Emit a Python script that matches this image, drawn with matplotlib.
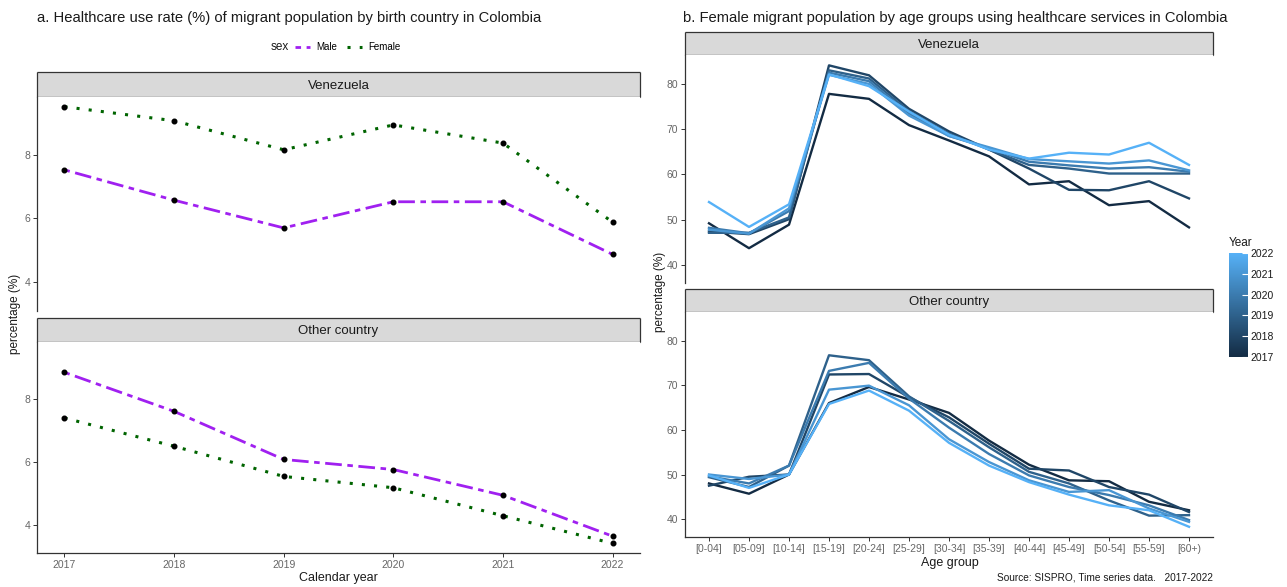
import numpy as np
import matplotlib
matplotlib.use("Agg")
import matplotlib.pyplot as plt
from matplotlib.colors import LinearSegmentedColormap, Normalize
from matplotlib.lines import Line2D
from matplotlib.colorbar import ColorbarBase

plt.rcParams['font.family'] = ['Liberation Sans', 'DejaVu Sans']

# -------------------------
# Data
# -------------------------
years = [2017, 2018, 2019, 2020, 2021, 2022]

ven_male = [7.52, 6.57, 5.70, 6.52, 6.52, 4.87]
ven_female = [9.50, 9.06, 8.15, 8.93, 8.36, 5.88]
oth_male = [8.84, 7.60, 6.07, 5.75, 4.93, 3.63]
oth_female = [7.39, 6.49, 5.53, 5.17, 4.28, 3.40]

age_groups = ["[0-04]", "[05-09]", "[10-14]", "[15-19]", "[20-24]", "[25-29]",
              "[30-34]", "[35-39]", "[40-44]", "[45-49]", "[50-54]", "[55-59]",
              "[60+)"]

ven_2017 = [49.2, 43.7, 48.9, 77.8, 76.7, 70.9, 67.5, 64.0, 57.8, 58.5, 53.2, 54.1, 48.3]
ven_2018 = [47.4, 46.8, 50.1, 84.1, 81.9, 74.5, 69.5, 65.5, 61.3, 56.6, 56.5, 58.5, 54.7]
ven_2019 = [47.1, 47.1, 50.5, 83.0, 81.2, 74.0, 69.0, 65.5, 62.1, 61.3, 60.2, 60.2, 60.2]
ven_2020 = [48.2, 47.0, 51.9, 82.5, 80.6, 73.5, 68.5, 65.8, 62.8, 62.0, 61.3, 61.6, 60.6]
ven_2021 = [47.8, 46.9, 52.5, 82.0, 80.0, 73.0, 68.5, 66.0, 63.4, 62.9, 62.4, 63.1, 60.9]
ven_2022 = [53.9, 48.4, 53.4, 82.1, 79.5, 73.9, 68.8, 65.5, 63.5, 64.8, 64.4, 67.0, 62.1]

oth_2017 = [48.0, 45.7, 50.0, 66.0, 69.6, 66.8, 63.8, 57.6, 52.2, 48.7, 48.5, 43.9, 42.0]
oth_2018 = [47.5, 49.5, 50.0, 72.4, 72.5, 67.3, 62.8, 56.9, 51.3, 50.9, 47.2, 45.5, 41.6]
oth_2019 = [49.4, 47.2, 52.0, 76.7, 75.6, 67.5, 62.0, 56.1, 50.6, 48.0, 44.2, 40.8, 40.9]
oth_2020 = [49.6, 48.0, 52.0, 73.2, 75.0, 67.0, 60.5, 54.6, 49.8, 47.2, 45.4, 43.1, 39.8]
oth_2021 = [50.0, 49.0, 50.0, 69.0, 69.9, 65.5, 57.9, 52.8, 48.7, 46.1, 46.5, 42.4, 39.4]
oth_2022 = [49.8, 47.0, 50.0, 65.8, 68.8, 64.3, 57.1, 52.0, 48.3, 45.5, 43.1, 42.0, 38.3]

ven_lines = [ven_2017, ven_2018, ven_2019, ven_2020, ven_2021, ven_2022]
oth_lines = [oth_2017, oth_2018, oth_2019, oth_2020, oth_2021, oth_2022]

# -------------------------
# Layout helpers (pixel based)
# -------------------------
W, H = 1287, 587
fig = plt.figure(figsize=(W / 100, H / 100), dpi=100)


def px_axes(x0, y0, x1, y1):
    return fig.add_axes([x0 / W, 1 - y1 / H, (x1 - x0) / W, (y1 - y0) / H])


def fx(x):
    return x / W


def fy(y):
    return 1 - y / H


def strip(x0, y0, x1, y1, label):
    ax = px_axes(x0, y0, x1, y1)
    ax.set_facecolor("#D9D9D9")
    ax.set_xticks([])
    ax.set_yticks([])
    for s in ax.spines.values():
        s.set_color("#333333")
        s.set_linewidth(0.9)
        s.set_capstyle("butt")
    ax.text(0.5, 0.45, label, ha="center", va="center", fontsize=9.5,
            color="#1A1A1A", transform=ax.transAxes)
    return ax


def style_panel(ax, show_x):
    ax.spines["top"].set_visible(False)
    ax.spines["right"].set_visible(False)
    ax.spines["left"].set_linewidth(0.9)
    ax.spines["left"].set_color("#333333")
    ax.tick_params(axis="y", labelsize=7.5, labelcolor="#666666",
                   color="#333333", length=3, width=0.7, pad=2)
    if show_x:
        ax.spines["bottom"].set_linewidth(0.9)
        ax.spines["bottom"].set_color("#333333")
        ax.tick_params(axis="x", labelsize=7.5, labelcolor="#666666",
                       color="#333333", length=3, width=0.7, pad=2)
    else:
        ax.spines["bottom"].set_visible(False)
        ax.tick_params(axis="x", bottom=False, labelbottom=False)


# -------------------------
# a. Left panels
# -------------------------
purple = "#A020F0"
green = "#006400"
male_ls = (0, (2, 2, 6, 2))
female_ls = (0, (1, 3))

all_vals = ven_male + ven_female + oth_male + oth_female
lo, hi = min(all_vals), max(all_vals)
pad = (hi - lo) * 0.05
left_ylim = (lo - pad, hi + pad)
left_xlim = (years[0] - 0.25, years[-1] + 0.25)

panels_a = [
    ("Venezuela", ven_male, ven_female, (72, 97, 311), False),
    ("Other country", oth_male, oth_female, (318, 342, 553), True),
]

for name, male, female, (sy0, py0, py1), show_x in panels_a:
    strip(37, sy0, 640, py0, name)
    ax = px_axes(37, py0, 640, py1)
    ax.plot(years, male, color=purple, linestyle=male_ls, linewidth=2.0)
    ax.plot(years, female, color=green, linestyle=female_ls, linewidth=2.2)
    ax.scatter(years, male, color="black", s=11, zorder=3)
    ax.scatter(years, female, color="black", s=11, zorder=3)
    ax.set_xlim(*left_xlim)
    ax.set_ylim(*left_ylim)
    ax.set_yticks([4, 6, 8])
    ax.set_xticks(years)
    style_panel(ax, show_x)

fig.text(fx(37), fy(18), "a. Healthcare use rate (%) of migrant population by birth country in Colombia",
         fontsize=10.6, ha="left", va="center", color="#1A1A1A")
fig.text(fx(15), fy(314), "percentage (%)", rotation=90, fontsize=8.5,
         ha="center", va="center", color="#1A1A1A")
fig.text(fx(338), fy(578), "Calendar year", fontsize=9, ha="center",
         va="center", color="#1A1A1A")

# legend
fig.text(fx(271), fy(47), "sex", fontsize=8.5, ha="left", va="center",
         color="#1A1A1A")
handles = [
    Line2D([], [], color=purple, linestyle=male_ls, linewidth=2.0),
    Line2D([], [], color=green, linestyle=female_ls, linewidth=2.2),
]
fig.legend(handles, ["Male", "Female"], loc="center left",
           bbox_to_anchor=(fx(286), fy(47)), ncol=2, frameon=False,
           fontsize=7, handlelength=1.6, handletextpad=0.6,
           columnspacing=1.0)

# -------------------------
# b. Right panels
# -------------------------
cmap = LinearSegmentedColormap.from_list("gg", ["#132B43", "#56B1F7"])
norm = Normalize(vmin=years[0], vmax=years[-1])

xs = np.arange(len(age_groups))
all_r = [v for ln in ven_lines + oth_lines for v in ln]
lo, hi = min(all_r), max(all_r)
pad = (hi - lo) * 0.05
right_ylim = (lo - pad, hi + pad)

panels_b = [
    ("Venezuela", ven_lines, (32, 55, 283), False),
    ("Other country", oth_lines, (289, 312, 537), True),
]

for name, lines, (sy0, py0, py1), show_x in panels_b:
    strip(685, sy0, 1213, py0, name)
    ax = px_axes(685, py0, 1213, py1)
    for yr, vals in zip(years, lines):
        ax.plot(xs, vals, color=cmap(norm(yr)), linewidth=1.7)
    ax.set_xlim(-0.6, len(age_groups) - 1 + 0.6)
    ax.set_ylim(*right_ylim)
    ax.set_yticks([40, 50, 60, 70, 80])
    ax.set_xticks(xs)
    ax.set_xticklabels(age_groups)
    style_panel(ax, show_x)

fig.text(fx(683), fy(18), "b. Female migrant population by age groups using healthcare services in Colombia",
         fontsize=10.6, ha="left", va="center", color="#1A1A1A")
fig.text(fx(660), fy(292), "percentage (%)", rotation=90, fontsize=8.5,
         ha="center", va="center", color="#1A1A1A")
fig.text(fx(950), fy(563), "Age group", fontsize=9, ha="center",
         va="center", color="#1A1A1A")
fig.text(fx(1213), fy(578), "Source: SISPRO, Time series data.   2017-2022",
         fontsize=7.3, ha="right", va="center", color="#1A1A1A")

# colour bar
cax = px_axes(1229, 253, 1248, 357)
cb = ColorbarBase(cax, cmap=cmap, norm=norm, orientation="vertical")
cb.set_ticks(years)
cb.outline.set_visible(False)
cax.tick_params(labelsize=7.5, length=4, color="white", direction="in",
                pad=2, labelcolor="#1A1A1A")
fig.text(fx(1229), fy(243), "Year", fontsize=8.5, ha="left", va="center",
         color="#1A1A1A")

fig.savefig("out.png", dpi=100)
